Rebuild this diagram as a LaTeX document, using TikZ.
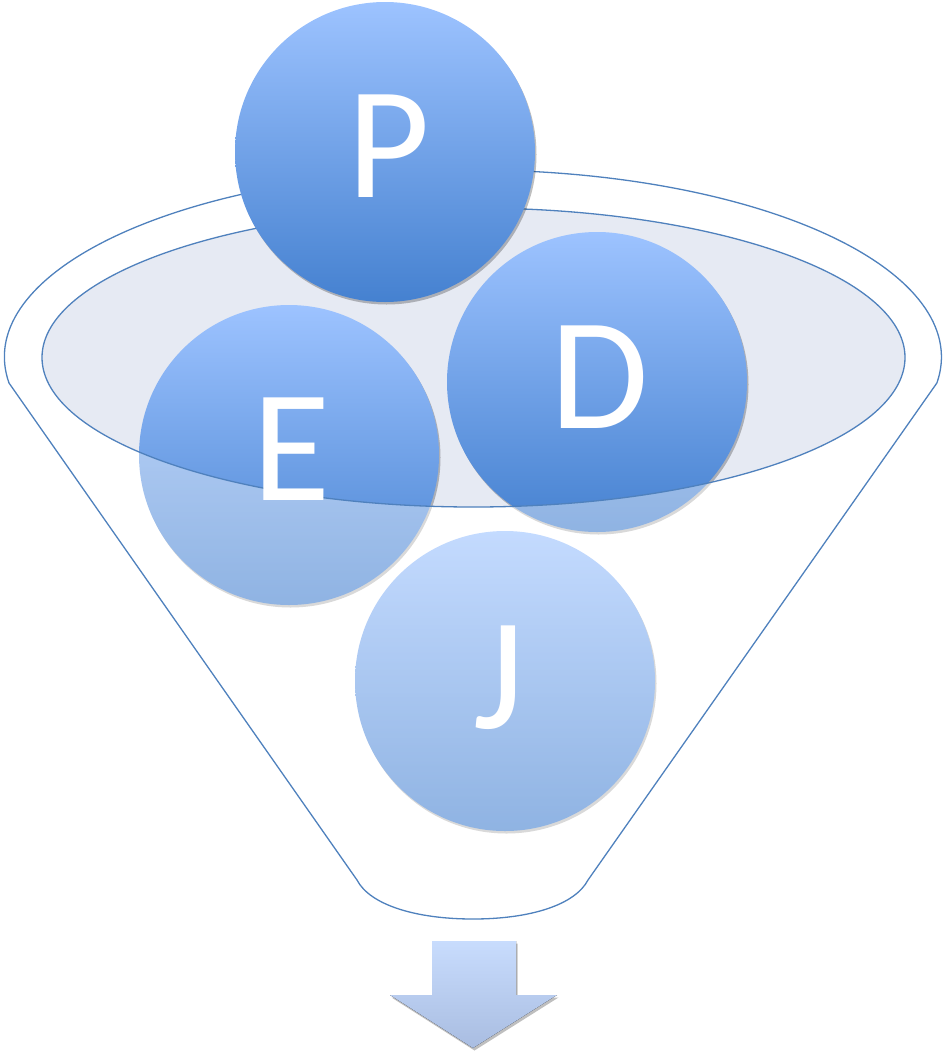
\documentclass[tikz,border=0pt]{standalone}
\usepackage{fontspec}
\setmainfont{Carlito}
\usetikzlibrary{shadows}
\definecolor{rimline}{HTML}{4F81BD}
\definecolor{topfill}{HTML}{E6EAF3}
\definecolor{balltop}{HTML}{9DC3FF}
\definecolor{ballbot}{HTML}{4581D0}
\definecolor{arrtop}{HTML}{C8DCFD}
\definecolor{arrbot}{HTML}{A9BDE1}
\tikzset{
  ball/.style={circle, minimum size=300pt, inner sep=0pt, top color=balltop, bottom color=ballbot,
    drop shadow={shadow xshift=1.5pt, shadow yshift=-2.5pt, opacity=0.25, fill=black}},
  letter/.style={text=white, inner sep=0pt, anchor=base, font=\fontsize{160}{160}\selectfont},
  rim/.style={draw=rimline, line width=1.3pt},
}
\begin{document}
\begin{tikzpicture}[x=1pt,y=-1pt]
\useasboundingbox (0,0) rectangle (949,1058);
% inner top surface
\fill[topfill] (473.5,357.5) ellipse[x radius=431.5, y radius=149.5];
% balls inside the funnel
\node[ball] (E) at (289,455) {};
\node[ball] (D) at (597,382) {};
\node[ball] (J) at (505,681) {};
% funnel body veil
\fill[white, opacity=0.4, even odd rule]
  (9,383) arc[start angle=172, end angle=368, x radius=468.5, y radius=187]
  -- (588,880) .. controls (575,905) and (530,919) .. (473,919)
  .. controls (416,919) and (370,905) .. (357,880) -- cycle
  (473.5,357.5) ellipse[x radius=431.5, y radius=149.5];
% outlines
\draw[rim, line join=round]
  (9,383) arc[start angle=172, end angle=368, x radius=468.5, y radius=187]
  -- (588,880) .. controls (575,905) and (530,919) .. (473,919)
  .. controls (416,919) and (370,905) .. (357,880) -- cycle;
\draw[rim] (473.5,357.5) ellipse[x radius=431.5, y radius=149.5];
% top ball
\node[ball] (P) at (385,152) {};
% letters
\node[letter] (tP) at (389,197) {P};
\node[letter] (tE) at (292,500) {E};
\node[letter] (tD) at (600,428) {D};
\node[letter] (tJ) at (499,728) {J};
% output arrow
\fill[top color=arrtop, bottom color=arrbot,
  drop shadow={shadow xshift=1.5pt, shadow yshift=-2.5pt, opacity=0.25, fill=black}]
  (432,941) -- (516,941) -- (516,995) -- (557,995) -- (473,1048) -- (390,995) -- (432,995) -- cycle;
\end{tikzpicture}
\end{document}
